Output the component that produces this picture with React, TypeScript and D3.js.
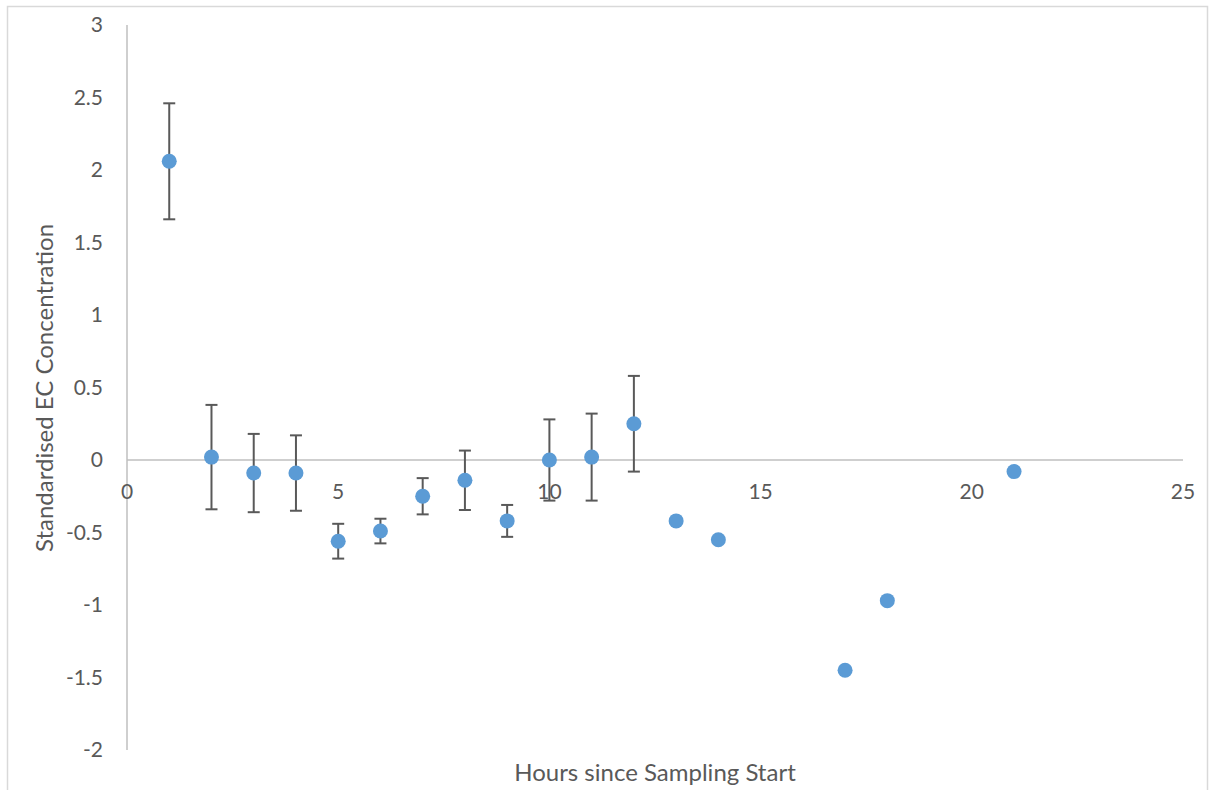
import React from "react";
import * as d3 from "d3";

// Hours since sampling start and standardised EC readings
const hours = [1, 2, 3, 4, 5, 6, 7, 8, 9, 10, 11, 12, 13, 14, 17, 18, 21];
const ecValues = [2.06, 0.02, -0.09, -0.09, -0.56, -0.49, -0.25, -0.14, -0.42, 0.0, 0.02, 0.25, -0.42, -0.55, -1.45, -0.97, -0.08];
// Symmetric error (± value); zero means no error bar
const ecErrors = [0.4, 0.36, 0.27, 0.26, 0.12, 0.085, 0.125, 0.205, 0.11, 0.28, 0.3, 0.33, 0, 0, 0, 0, 0];

const xTicks = [0, 5, 10, 15, 20, 25];
const yTicks = [3, 2.5, 2, 1.5, 1, 0.5, 0, -0.5, -1, -1.5, -2];

const W = 1209;
const H = 790;
const FONT = "Lato, 'Open Sans', sans-serif";
const TEXT = "#595959";

export default function App() {
  const x = d3.scaleLinear().domain([0, 25]).range([127, 1183]);
  const y = d3.scaleLinear().domain([-2, 3]).range([750, 25]);

  const points = hours.map((h, i) => ({ h, v: ecValues[i], e: ecErrors[i] }));

  return (
    <svg
      width={W}
      height={H}
      style={{ position: "absolute", left: 0, top: 0, background: "#fff" }}
      fontFamily={FONT}
    >
      <rect x={7.5} y={6.5} width={1200} height={800} fill="#fff" stroke="#d9d9d9" strokeWidth={1.5} />

      {/* axes */}
      <line x1={x(0)} x2={x(0)} y1={y(3)} y2={y(-2)} stroke="#bfbfbf" strokeWidth={1.5} />
      <line x1={x(0)} x2={x(25)} y1={y(0)} y2={y(0)} stroke="#bfbfbf" strokeWidth={1.5} />

      {yTicks.map((t) => (
        <text key={"y" + t} x={103} y={y(t)} dy="0.35em" textAnchor="end" fontSize={21} fill={TEXT}>
          {t}
        </text>
      ))}
      {xTicks.map((t) => (
        <text key={"x" + t} x={x(t)} y={y(0) + 32} dy="0.35em" textAnchor="middle" fontSize={21} fill={TEXT}>
          {t}
        </text>
      ))}

      {/* error bars */}
      {points
        .filter((p) => p.e > 0)
        .map((p) => (
          <g key={"e" + p.h} stroke="#595959" strokeWidth={2}>
            <line x1={x(p.h)} x2={x(p.h)} y1={y(p.v + p.e)} y2={y(p.v - p.e)} />
            <line x1={x(p.h) - 6} x2={x(p.h) + 6} y1={y(p.v + p.e)} y2={y(p.v + p.e)} />
            <line x1={x(p.h) - 6} x2={x(p.h) + 6} y1={y(p.v - p.e)} y2={y(p.v - p.e)} />
          </g>
        ))}

      {/* markers */}
      {points.map((p) => (
        <circle key={"c" + p.h} cx={x(p.h)} cy={y(p.v)} r={7.5} fill="#5b9bd5" />
      ))}

      <text x={655} y={773} dy="0.35em" textAnchor="middle" fontSize={24} fill={TEXT}>
        Hours since Sampling Start
      </text>
      <text
        transform={`translate(45, 388) rotate(-90)`}
        dy="0.35em"
        textAnchor="middle"
        fontSize={24}
        fill={TEXT}
      >
        Standardised EC Concentration
      </text>
    </svg>
  );
}
